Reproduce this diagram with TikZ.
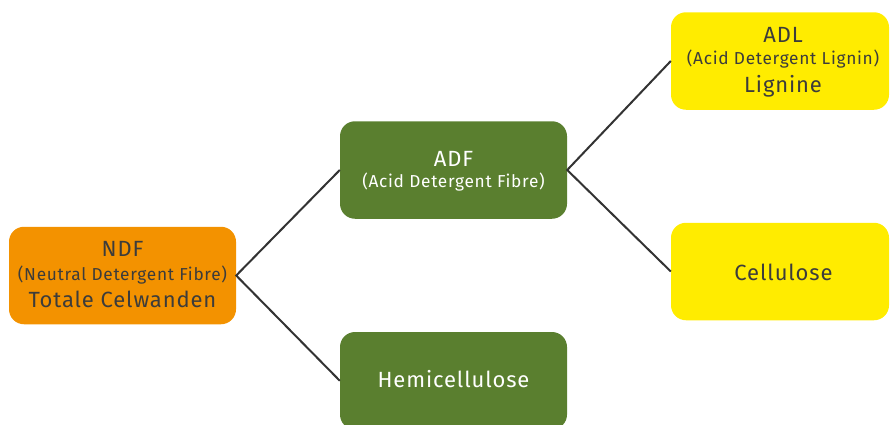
\documentclass[tikz,border=0pt]{standalone}
\usepackage{fontspec}
\setmainfont{Fira Sans}[LetterSpace=4]
\definecolor{ndforange}{HTML}{F39200}
\definecolor{adfgreen}{HTML}{5A7F2F}
\definecolor{adlyellow}{HTML}{FFEC00}
\definecolor{txtgray}{HTML}{3C3C3B}
\definecolor{linegray}{HTML}{333333}
\begin{document}
\begin{tikzpicture}[x=1pt,y=-1pt,
  box/.style={rounded corners=15pt, inner sep=0pt, minimum height=97.5pt},
  orangebox/.style={box, fill=ndforange, minimum width=227pt},
  greenbox/.style={box, fill=adfgreen, minimum width=227pt},
  yellowbox/.style={box, fill=adlyellow, minimum width=218pt},
  bigt/.style={anchor=base, inner sep=0pt, font=\fontsize{22}{26}\selectfont},
  smallt/.style={anchor=base, inner sep=0pt, font=\fontsize{17.3}{21}\selectfont},
  dark/.style={text=txtgray},
  light/.style={text=white},
  conn/.style={draw=linegray, line width=2pt}]
\useasboundingbox (0,0) rectangle (890,424);
\clip (0,0) rectangle (890,424);
\node[orangebox] (ndf) at (122.5,275.5) {};
\node[greenbox] (adf) at (453.5,170) {};
\node[greenbox] (hemi) at (453.5,380.75) {};
\node[yellowbox] (adl) at (780,61) {};
\node[yellowbox] (cell) at (780,271.5) {};
\node[bigt,dark] (ndft1) at (122.5,256.7) {NDF};
\node[smallt,dark] (ndft2) at (122.5,280) {(Neutral Detergent Fibre)};
\node[bigt,dark] (ndft3) at (122.5,307.7) {Totale Celwanden};
\node[bigt,light] (adft1) at (453.5,166.7) {ADF};
\node[smallt,light] (adft2) at (453.5,187.7) {(Acid Detergent Fibre)};
\node[bigt,light] (hemit) at (453.5,387.3) {Hemicellulose};
\node[bigt,dark] (adlt1) at (783,42.7) {ADL};
\node[smallt,dark] (adlt2) at (783,64.3) {(Acid Detergent Lignin)};
\node[bigt,dark] (adlt3) at (783,92.7) {Lignine};
\node[bigt,dark] (cellt) at (783.5,280) {Cellulose};
\draw[conn] (adf.west) -- (ndf.east) -- (hemi.west);
\draw[conn] (adl.west) -- (adf.east) -- (cell.west);
\end{tikzpicture}
\end{document}
